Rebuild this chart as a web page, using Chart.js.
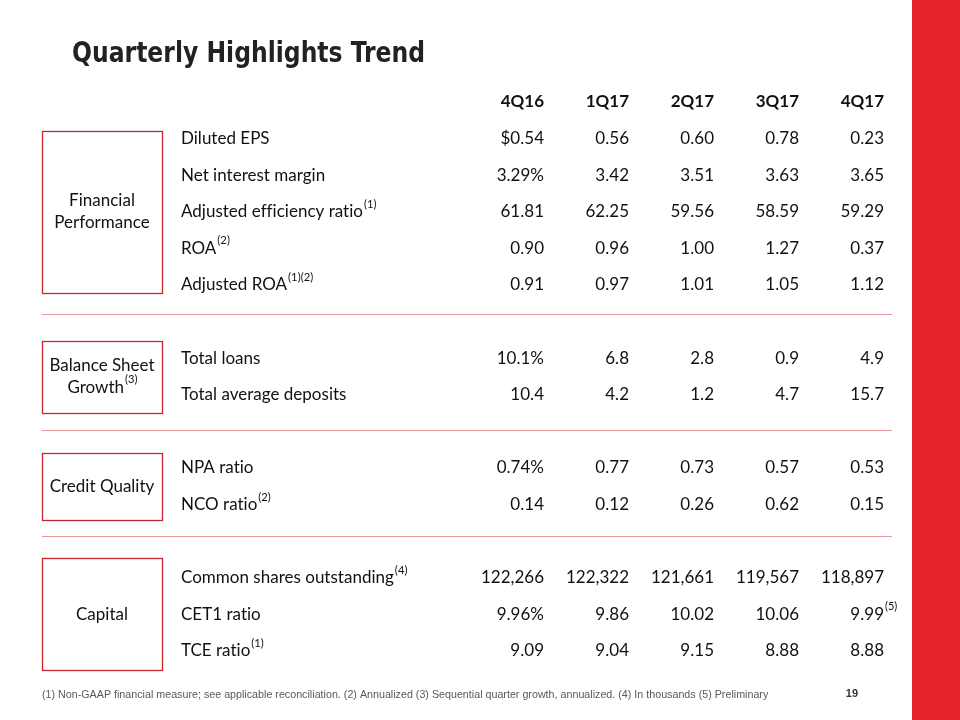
<!DOCTYPE html>
<html>
<head>
<meta charset="utf-8">
<title>Quarterly Highlights Trend</title>
<script src="https://cdn.jsdelivr.net/npm/chart.js@4.4.0/dist/chart.umd.min.js"></script>
<style>
  html, body { margin: 0; padding: 0; background: #fff; }
  #wrap { width: 960px; height: 720px; }
</style>
</head>
<body>
<div id="wrap"><canvas id="slide" width="960" height="720"></canvas></div>
<script>
// --- data ---
const quarters = ['4Q16', '1Q17', '2Q17', '3Q17', '4Q17'];

const groups = ['Financial Performance', 'Balance Sheet Growth', 'Credit Quality', 'Capital'];
const groupNotes = ['', '(3)', '', ''];
const groupSizes = [5, 2, 2, 3];

const metrics = [
  'Diluted EPS', 'Net interest margin', 'Adjusted efficiency ratio', 'ROA', 'Adjusted ROA',
  'Total loans', 'Total average deposits',
  'NPA ratio', 'NCO ratio',
  'Common shares outstanding', 'CET1 ratio', 'TCE ratio'
];
const metricNotes = ['', '', '(1)', '(2)', '(1)(2)', '', '', '', '(2)', '(4)', '', '(1)'];

const eps = [0.54, 0.56, 0.60, 0.78, 0.23];
const nim = [3.29, 3.42, 3.51, 3.63, 3.65];
const efficiency = [61.81, 62.25, 59.56, 58.59, 59.29];
const roa = [0.90, 0.96, 1.00, 1.27, 0.37];
const adjRoa = [0.91, 0.97, 1.01, 1.05, 1.12];
const loans = [10.1, 6.8, 2.8, 0.9, 4.9];
const deposits = [10.4, 4.2, 1.2, 4.7, 15.7];
const npa = [0.74, 0.77, 0.73, 0.57, 0.53];
const nco = [0.14, 0.12, 0.26, 0.62, 0.15];
const shares = [122266, 122322, 121661, 119567, 118897];
const cet1 = [9.96, 9.86, 10.02, 10.06, 9.99];
const tce = [9.09, 9.04, 9.15, 8.88, 8.88];

const rowValues = [eps, nim, efficiency, roa, adjRoa, loans, deposits, npa, nco, shares, cet1, tce];
const decimals = [2, 2, 2, 2, 2, 1, 1, 2, 2, 0, 2, 2];
// first column carries the unit
const firstPrefix = ['$', '', '', '', '', '', '', '', '', '', '', ''];
const firstSuffix = ['', '%', '', '', '', '%', '', '%', '', '', '%', ''];
const cellNotes = [{ row: 10, col: 4, text: '(5)' }];

const footnote = '(1) Non-GAAP financial measure; see applicable reconciliation. (2) Annualized (3) Sequential quarter growth, annualized. (4) In thousands (5) Preliminary';

// row slots: one empty slot between groups
const rowPos = [];
let slot = 1;
groupSizes.forEach(n => {
  for (let i = 0; i < n; i++) rowPos.push(slot++);
  slot++;
});

function fmt(v, r, c) {
  let s = v.toLocaleString('en-US', { minimumFractionDigits: decimals[r], maximumFractionDigits: decimals[r] });
  if (c === 0) s = firstPrefix[r] + s + firstSuffix[r];
  return s;
}

const BODY = '"Lato", "Open Sans", sans-serif';
const RED = '#E42229';

function textWithSup(ctx, text, note, x, y, align, size) {
  const supSize = size * 0.66;
  ctx.font = size + 'px ' + BODY;
  const w = ctx.measureText(text).width;
  ctx.font = supSize + 'px ' + BODY;
  const nw = note ? ctx.measureText(note).width : 0;
  let x0 = x;
  if (align === 'center') x0 = x - (w + nw) / 2;
  ctx.textAlign = 'left';
  ctx.font = size + 'px ' + BODY;
  ctx.fillText(text, x0, y);
  if (note) {
    ctx.font = supSize + 'px ' + BODY;
    ctx.fillText(note, x0 + w + 1, y - size * 0.45);
  }
}

const tablePlugin = {
  id: 'tablePlugin',
  afterDatasetsDraw(chart) {
    const ctx = chart.ctx;
    const ys = chart.scales.y;
    const xs = chart.scales.x;
    ctx.save();
    if ('letterSpacing' in ctx) ctx.letterSpacing = '0.01px'; // avoids the "ti" ligature

    // side bar
    ctx.fillStyle = RED;
    ctx.fillRect(912, 0, 48, 720);

    // title (condensed)
    ctx.save();
    ctx.fillStyle = '#222';
    ctx.textBaseline = 'alphabetic';
    ctx.textAlign = 'left';
    ctx.font = 'bold 28px "DejaVu Sans Condensed", "Liberation Sans Narrow", sans-serif';
    const tw = ctx.measureText('Quarterly Highlights Trend').width;
    ctx.translate(72, 62);
    ctx.scale(353 / tw, 1);
    ctx.fillText('Quarterly Highlights Trend', 0, 0);
    ctx.restore();

    // header
    ctx.textBaseline = 'middle';
    ctx.textAlign = 'right';
    ctx.font = 'bold 17px ' + BODY;
    ctx.fillStyle = '#111';
    quarters.forEach((q, c) => ctx.fillText(q, xs.getPixelForValue(c), ys.getPixelForValue(0)));

    // cells from the dataset points
    chart.data.datasets.forEach((ds, c) => {
      const meta = chart.getDatasetMeta(c);
      meta.data.forEach((pt, r) => {
        ctx.textAlign = 'right';
        ctx.font = '17px ' + BODY;
        ctx.fillText(fmt(rowValues[r][c], r, c), pt.x, pt.y);
      });
    });
    cellNotes.forEach(n => {
      const pt = chart.getDatasetMeta(n.col).data[n.row];
      ctx.textAlign = 'left';
      ctx.font = '11px ' + BODY;
      ctx.fillText(n.text, pt.x + 1, pt.y - 8);
    });

    // row labels
    metrics.forEach((m, r) => {
      textWithSup(ctx, m, metricNotes[r], 181, ys.getPixelForValue(rowPos[r]), 'left', 17);
    });

    // group boxes, labels and separators
    const boxH = [162, 72, 67, 112];
    let first = 0;
    const boxes = [];
    groups.forEach((g, gi) => {
      const last = first + groupSizes[gi] - 1;
      const cy = (ys.getPixelForValue(rowPos[first]) + ys.getPixelForValue(rowPos[last])) / 2;
      const top = Math.round(cy - boxH[gi] / 2) + 0.5;
      boxes.push([top, top + boxH[gi]]);
      ctx.strokeStyle = '#C8262D';
      ctx.lineWidth = 1.3;
      ctx.strokeRect(42.5, top, 120, boxH[gi]);
      const words = g.split(' ');
      const lines = (g.length > 14) ? [words.slice(0, -1).join(' '), words[words.length - 1]] : [g];
      const lh = 22;
      lines.forEach((ln, li) => {
        const ly = cy + (li - (lines.length - 1) / 2) * lh;
        const note = (li === lines.length - 1) ? groupNotes[gi] : '';
        ctx.fillStyle = '#111';
        textWithSup(ctx, ln, note, 102, ly, 'center', 17);
      });
      first = last + 1;
    });
    ctx.strokeStyle = '#E49A9C';
    ctx.lineWidth = 1.2;
    for (let i = 0; i < boxes.length - 1; i++) {
      const y = Math.round((boxes[i][1] + boxes[i + 1][0]) / 2 - 4) + 0.5;
      ctx.beginPath();
      ctx.moveTo(42, y);
      ctx.lineTo(892, y);
      ctx.stroke();
    }

    // footnote and page number
    ctx.textAlign = 'left';
    ctx.textBaseline = 'middle';
    ctx.fillStyle = '#595959';
    ctx.font = '10.7px "Liberation Sans", Arial, sans-serif';
    ctx.fillText(footnote, 42, 695);
    ctx.fillStyle = '#333';
    ctx.textAlign = 'center';
    ctx.font = 'bold 11px "Liberation Sans", Arial, sans-serif';
    ctx.fillText('19', 852, 694);

    ctx.restore();
  }
};

// scales mapped so one column = 85px and one row slot = 36.6px
const colStep = 85, col0 = 544;
const rowStep = 36.6, row0 = 102;

new Chart(document.getElementById('slide').getContext('2d'), {
  type: 'scatter',
  data: {
    datasets: quarters.map((q, c) => ({
      label: q,
      data: metrics.map((m, r) => ({ x: c, y: rowPos[r] })),
      pointRadius: 0,
      pointHoverRadius: 0
    }))
  },
  options: {
    responsive: false,
    animation: false,
    layout: { padding: 0 },
    plugins: { legend: { display: false }, tooltip: { enabled: false } },
    scales: {
      x: { type: 'linear', display: false, min: -col0 / colStep, max: (960 - col0) / colStep },
      y: { type: 'linear', display: false, reverse: true, min: -row0 / rowStep, max: (720 - row0) / rowStep }
    }
  },
  plugins: [tablePlugin]
});
</script>
</body>
</html>
